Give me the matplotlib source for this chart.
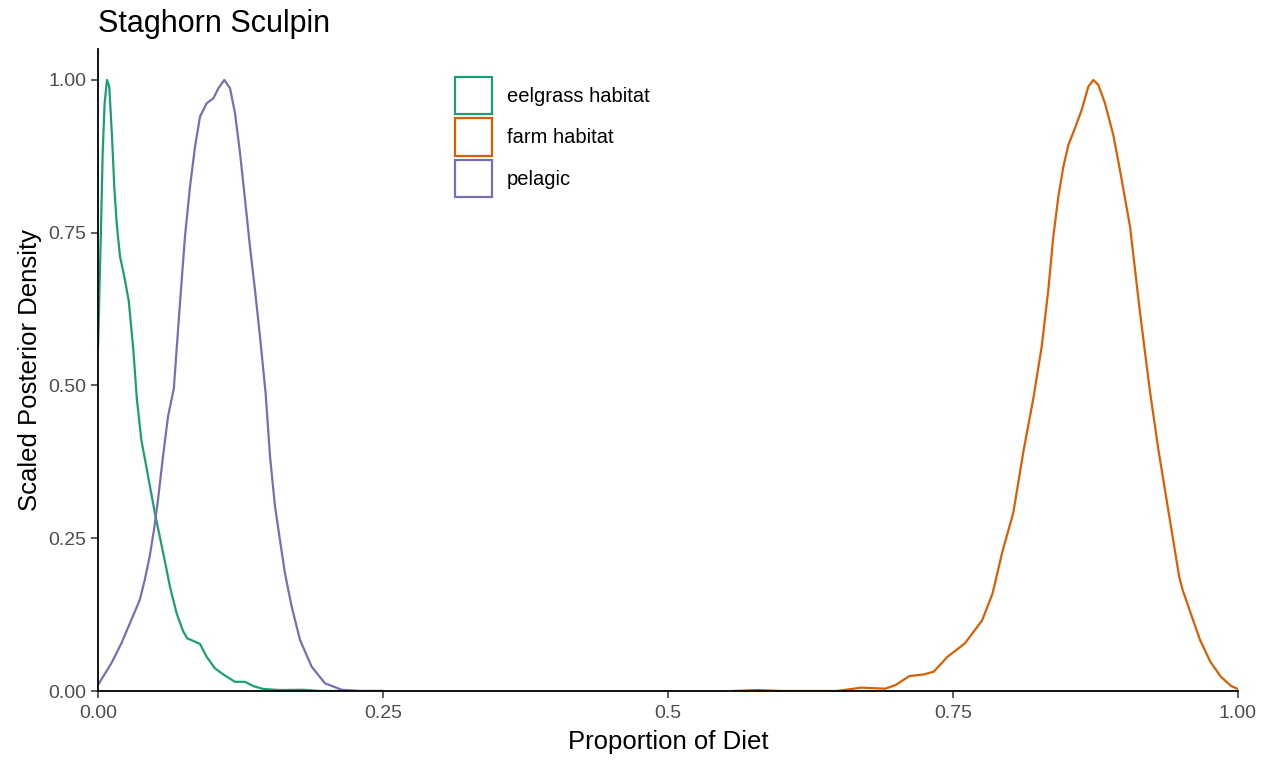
import matplotlib
matplotlib.use("Agg")
import matplotlib.pyplot as plt
from matplotlib.patches import Patch

plt.rcParams['font.family'] = ['Liberation Sans', 'DejaVu Sans']

# curves (proportion of diet, scaled density)
eelgrass_x = [0.0, 0.0026, 0.0041, 0.0058, 0.0079, 0.0099, 0.0123, 0.0143, 0.0164,
              0.0193, 0.0231, 0.027, 0.031, 0.034, 0.038, 0.0439, 0.050, 0.0585,
              0.0632, 0.069, 0.0746, 0.0784, 0.0836, 0.0895, 0.0953, 0.1026, 0.110,
              0.1202, 0.129, 0.1363, 0.145, 0.1596, 0.1801, 0.1947, 0.22, 0.25]
eelgrass_y = [0.56, 0.755, 0.88, 0.962, 1.0, 0.989, 0.907, 0.825, 0.765,
              0.711, 0.678, 0.638, 0.558, 0.48, 0.411, 0.352, 0.29, 0.214,
              0.17, 0.127, 0.098, 0.086, 0.082, 0.077, 0.056, 0.037, 0.027,
              0.015, 0.015, 0.008, 0.0033, 0.0016, 0.002, 0.0, 0.0, 0.0]

farm_x = [0.557, 0.5783, 0.5996, 0.648, 0.6694, 0.6906, 0.6997, 0.7118, 0.724,
          0.7331, 0.7452, 0.7604, 0.7755, 0.7846, 0.7937, 0.8028, 0.812, 0.8205,
          0.8278, 0.8336, 0.838, 0.8424, 0.8468, 0.8512, 0.857, 0.8629, 0.8687,
          0.8731, 0.8775, 0.8833, 0.8906, 0.8959, 0.9053, 0.914, 0.9226, 0.9302,
          0.9393, 0.9484, 0.9515, 0.9575, 0.9667, 0.9757, 0.9848, 0.9939, 1.0]
farm_y = [0.0, 0.0016, 0.0, 0.0, 0.0055, 0.0038, 0.0098, 0.0245, 0.027,
          0.0316, 0.056, 0.0779, 0.1154, 0.159, 0.2308, 0.2908, 0.3945, 0.479,
          0.5636, 0.6563, 0.7436, 0.809, 0.858, 0.8936, 0.921, 0.951, 0.989,
          1.0, 0.992, 0.962, 0.91, 0.858, 0.76, 0.62, 0.4926, 0.3945,
          0.2908, 0.187, 0.165, 0.1326, 0.0835, 0.048, 0.0237, 0.0082, 0.0033]

pelagic_x = [0.0, 0.0117, 0.0205, 0.0292, 0.0366, 0.041, 0.0453, 0.0491, 0.0526,
             0.057, 0.0614, 0.0665, 0.0719, 0.0763, 0.0807, 0.0851, 0.0895, 0.0953,
             0.1012, 0.1056, 0.1108, 0.1158, 0.1202, 0.1246, 0.129, 0.1333, 0.1377,
             0.1421, 0.1471, 0.1509, 0.1553, 0.1596, 0.164, 0.1699, 0.1772, 0.1874,
             0.1991, 0.2138, 0.23, 0.25]
pelagic_y = [0.01, 0.0453, 0.078, 0.1162, 0.1489, 0.1817, 0.2198, 0.2635, 0.3126,
             0.3835, 0.449, 0.495, 0.6345, 0.7436, 0.8254, 0.8908, 0.94, 0.9618,
             0.97, 0.9864, 1.0, 0.9864, 0.9455, 0.88, 0.8036, 0.7272, 0.6563,
             0.5799, 0.486, 0.3835, 0.3016, 0.2471, 0.1926, 0.138, 0.0835, 0.0398,
             0.0126, 0.002, 0.0, 0.0]

labels = ['eelgrass habitat', 'farm habitat', 'pelagic']
colors = ['#1B9E77', '#D95F02', '#7570B3']
xticks = [0, 0.25, 0.5, 0.75, 1.0]
xticklabels = ['0.00', '0.25', '0.5', '0.75', '1.00']
yticks = [0, 0.25, 0.5, 0.75, 1.0]
yticklabels = ['0.00', '0.25', '0.50', '0.75', '1.00']

W, H = 1263, 761
fig = plt.figure(figsize=(W / 100, H / 100), dpi=100)
ax = fig.add_axes([98 / W, 70 / H, 1140 / W, (691 - 49.4) / H])

series = [(eelgrass_x, eelgrass_y), (farm_x, farm_y), (pelagic_x, pelagic_y)]
for (xs, ys), c in zip(series, colors):
    ax.plot(xs, ys, color=c, lw=1.6, solid_joinstyle='round', solid_capstyle='round')

ax.set_xlim(0, 1)
ax.set_ylim(0, 1.05)
ax.set_xticks(xticks)
ax.set_xticklabels(xticklabels)
ax.set_yticks(yticks)
ax.set_yticklabels(yticklabels)
ax.tick_params(labelsize=14, labelcolor='#4D4D4D', color='#333333', length=5, width=1.1)
ax.tick_params(axis='x', pad=5)
for s in ['top', 'right']:
    ax.spines[s].set_visible(False)
for s in ['left', 'bottom']:
    ax.spines[s].set_linewidth(1.3)
    ax.spines[s].set_color('black')

ax.set_xlabel('Proportion of Diet', fontsize=18.5, labelpad=6)
ax.set_ylabel('Scaled Posterior Density', fontsize=18.5, labelpad=4.5)
fig.text(98 / W, 1 - 32 / H, 'Staghorn Sculpin', fontsize=22, va='baseline', ha='left')

fs = 14.5
handles = [Patch(facecolor='white', edgecolor=c, lw=1.6, label=l) for c, l in zip(colors, labels)]
ax.legend(handles=handles, loc='upper left', bbox_to_anchor=(455 / W, 1 - 77 / H),
          bbox_transform=fig.transFigure, frameon=False, fontsize=fs,
          handlelength=1.84, handleheight=2.454, labelspacing=0.22,
          handletextpad=0.75, borderpad=0, borderaxespad=0)

fig.savefig('out.png', dpi=100)
